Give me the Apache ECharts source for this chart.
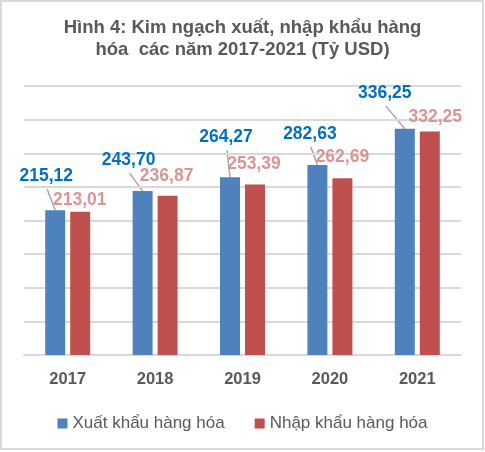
<!DOCTYPE html>
<html>
<head>
<meta charset="utf-8">
<script src="https://cdn.jsdelivr.net/npm/echarts@6/dist/echarts.min.js"></script>
<style>
  html, body { margin: 0; padding: 0; background: #fff; }
  #chart { width: 485px; height: 452px; }
</style>
</head>
<body>
<div id="chart"></div>
<script>
const years = ['2017', '2018', '2019', '2020', '2021']
const exportValues = [215.12, 243.70, 264.27, 282.63, 336.25]
const importValues = [213.01, 236.87, 253.39, 262.69, 332.25]
const seriesNames = ['Xuất khẩu hàng hóa', 'Nhập khẩu hàng hóa']

// label centre relative to the top centre of its bar (px)
const exportLabelPos = [[-9, -34], [-14, -31], [-4, -40], [-7.5, -31], [-20, -36]]
const importLabelPos = [[-0.5, -12], [-1, -20], [-1, -20], [0, -21], [5.5, -14]]

const fmt = (v) => v.toFixed(2).replace('.', ',')
const font = 'Liberation Sans, Arial, sans-serif'

const placeLabel = (pos) => (p) => ({
  x: p.rect.x + p.rect.width / 2 + pos[p.dataIndex][0],
  y: p.rect.y + pos[p.dataIndex][1],
  align: 'center',
  verticalAlign: 'middle'
})

const border = {
  type: 'rect',
  id: 'border',
  shape: { x: 1, y: 1, width: 482, height: 448 },
  style: { fill: 'none', stroke: '#d9d9d9', lineWidth: 2 },
  silent: true
}

const chart = echarts.init(document.getElementById('chart'))
const option = {
  backgroundColor: '#fff',
  textStyle: { fontFamily: font },
  graphic: [border],
  title: {
    text: 'Hình 4: Kim ngạch xuất, nhập khẩu hàng\nhóa  các năm 2017-2021 (Tỷ USD)',
    left: 'center',
    top: 12,
    textStyle: {
      fontFamily: font,
      fontSize: 18.5,
      fontWeight: 'bold',
      color: '#595959',
      lineHeight: 22
    }
  },
  legend: {
    top: 410,
    left: 'center',
    icon: 'rect',
    itemWidth: 10,
    itemHeight: 10,
    itemGap: 30,
    textStyle: { fontFamily: font, fontSize: 17, color: '#595959' },
    data: seriesNames
  },
  grid: {
    top: 86,
    left: 24,
    right: 24,
    bottom: 97
  },
  xAxis: {
    type: 'category',
    data: years,
    axisTick: { show: false },
    axisLine: { lineStyle: { color: '#d9d9d9', width: 2 } },
    axisLabel: {
      margin: 16,
      fontFamily: font,
      fontSize: 16.5,
      fontWeight: 'bold',
      color: '#595959'
    }
  },
  yAxis: {
    type: 'value',
    min: 0,
    max: 400,
    interval: 50,
    axisLabel: { show: false },
    axisLine: { show: false },
    axisTick: { show: false },
    splitLine: { lineStyle: { color: '#d9d9d9', width: 2 } }
  },
  series: [
    {
      name: seriesNames[0],
      type: 'bar',
      barWidth: 20,
      barGap: '25%',
      itemStyle: { color: '#4f81bd' },
      label: {
        show: true,
        position: 'top',
        fontFamily: font,
        fontSize: 17.5,
        fontWeight: 'bold',
        color: '#0070c0',
        formatter: (p) => fmt(p.value)
      },
      labelLayout: placeLabel(exportLabelPos),
      data: exportValues
    },
    {
      name: seriesNames[1],
      type: 'bar',
      barWidth: 20,
      itemStyle: { color: '#c0504d' },
      label: {
        show: true,
        position: 'top',
        fontFamily: font,
        fontSize: 17.5,
        fontWeight: 'bold',
        color: '#da9694',
        formatter: (p) => fmt(p.value)
      },
      labelLayout: placeLabel(importLabelPos),
      data: importValues
    }
  ]
}
chart.setOption(option)

// leader lines from the export labels down to the top centre of each bar
const exportData = chart.getModel().getSeriesByIndex(0).getData()
const leaders = exportValues.map((v, i) => {
  const lay = exportData.getItemLayout(i)
  const cx = lay.x + lay.width / 2
  const top = Math.min(lay.y, lay.y + lay.height)
  return {
    type: 'line',
    id: 'leader' + i,
    shape: {
      x1: cx + exportLabelPos[i][0] + 1,
      y1: top + exportLabelPos[i][1] + 13,
      x2: cx,
      y2: top
    },
    style: { stroke: '#a6a6a6', lineWidth: 1.5 },
    silent: true
  }
})
chart.setOption({ graphic: [border].concat(leaders) })
</script>
</body>
</html>
